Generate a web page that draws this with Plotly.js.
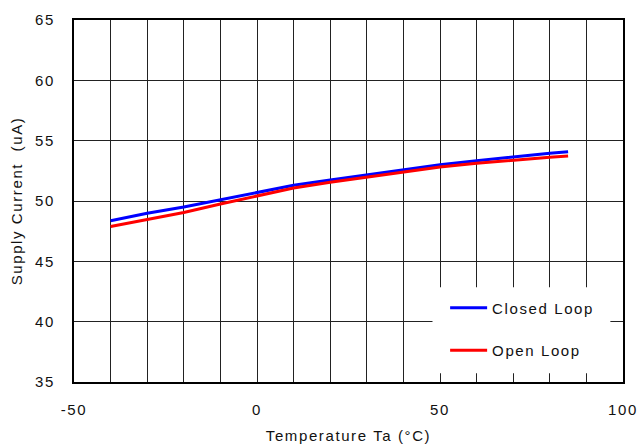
<!DOCTYPE html>
<html>
<head>
<meta charset="utf-8">
<script src="https://cdn.plot.ly/plotly-3.0.1.min.js"></script>
<style>
html,body{margin:0;padding:0;background:#fff;}
#chart{width:640px;height:446px;}
#chart svg text{letter-spacing:1.6px;}
#chart g.legend g.scrollbox{clip-path:none !important;}
</style>
</head>
<body>
<div id="chart"></div>
<script>
const temperature = [-40, -30, -20, -10, 0, 10, 20, 30, 40, 50, 60, 70, 80, 85];
const closedLoop = [48.37, 48.98, 49.50, 50.09, 50.72, 51.30, 51.74, 52.18, 52.60, 53.00, 53.34, 53.67, 53.95, 54.09];
const openLoop   = [47.88, 48.47, 49.04, 49.75, 50.42, 51.08, 51.55, 51.98, 52.42, 52.82, 53.13, 53.40, 53.62, 53.73];
const seriesNames = ["Closed Loop", "Open Loop"];
const seriesColors = ["#0000ff", "#ff0000"];
const xTickVals = [-50, 0, 50, 100];
const xTickText = ["-50", "0", "50", "100"];

const font = {family: "Liberation Sans, Arial, sans-serif", size: 15, color: "#111"};
const traces = [closedLoop, openLoop].map((vals, i) => ({
  x: temperature, y: vals, type: "scatter", mode: "lines",
  name: seriesNames[i], legendgroup: "g" + i,
  line: {color: seriesColors[i], width: 3}
}));

const layout = {
  width: 640, height: 446,
  margin: {l: 74, r: 17, t: 20, b: 64},
  paper_bgcolor: "#fff", plot_bgcolor: "#fff",
  font: font,
  showlegend: true,
  legend: {x: 0.676, y: 0.25, xanchor: "left", yanchor: "top", bgcolor: "rgba(0,0,0,0)",
           itemwidth: 37,
           font: font, tracegroupgap: 20, traceorder: "grouped"},
  xaxis: {
    range: [-50, 100], tickvals: xTickVals, ticktext: xTickText, showgrid: true, gridcolor: "#222", gridwidth: 1,
    minor: {dtick: 10, tick0: -50, showgrid: true, gridcolor: "#222", gridwidth: 1, ticks: "inside", ticklen: 8, tickcolor: "#222"},
    ticks: "inside", ticklen: 8, tickcolor: "#222",
    showline: true, linecolor: "#000", linewidth: 2, mirror: "ticks",
    zeroline: false, ticklabelstandoff: 13,
    title: {text: "Temperature Ta (°C)", font: font, standoff: 13}
  },
  yaxis: {
    range: [35, 65], dtick: 5, showgrid: true, gridcolor: "#222", gridwidth: 1,
    ticks: "inside", ticklen: 7, tickcolor: "#222",
    showline: true, linecolor: "#000", linewidth: 2, mirror: "ticks",
    zeroline: false, ticklabelstandoff: 14,
    title: {text: "Supply Current  (uA)", font: font, standoff: 12}
  },
  shapes: [{type: "rect", xref: "paper", yref: "paper", x0: 0.653, x1: 0.977, y0: 0.024, y1: 0.262,
            fillcolor: "#fff", line: {width: 0}, layer: "above"}]
};
Plotly.newPlot("chart", traces, layout, {displayModeBar: false, staticPlot: true});
</script>
</body>
</html>
